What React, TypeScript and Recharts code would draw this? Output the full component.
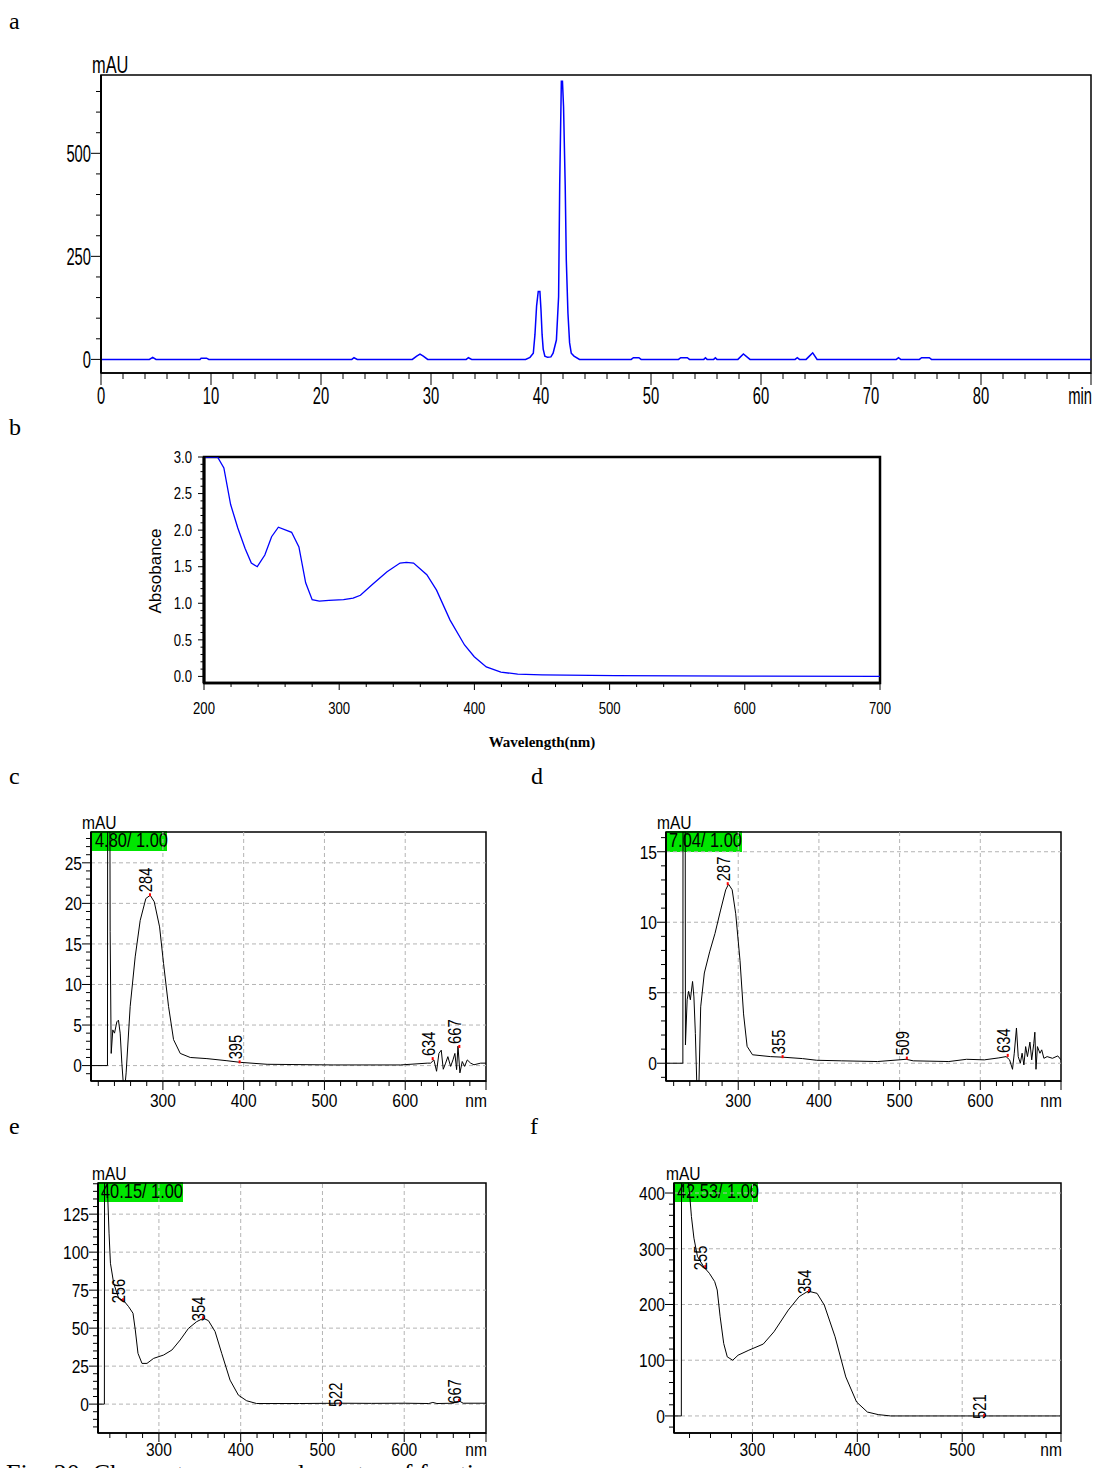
import React from 'react';
import { LineChart, Line, XAxis, YAxis, ReferenceLine, ReferenceArea, ReferenceDot } from 'recharts';

// no Arial Narrow in the sandbox: squeeze Liberation Sans horizontally instead
const SANS = "'Liberation Sans', Arial, sans-serif";
const SERIF = "'Liberation Serif', 'DejaVu Serif', serif";
const SQUEEZE = 0.82;

// a: HPLC chromatogram [time (min), mAU]
const chromatogram: [number, number][] = [
  [0, 0], [4.4, 0], [4.7, 5], [5.0, 0], [9.0, 0], [9.1, 3], [9.6, 3], [9.8, 0],
  [22.8, 0], [23.0, 4], [23.3, 0], [28.3, 0], [28.7, 8], [29.0, 13], [29.3, 8], [29.7, 0],
  [33.2, 0], [33.4, 4], [33.7, 0], [38.6, 0], [39.0, 5], [39.3, 15], [39.45, 60], [39.6, 130],
  [39.75, 165], [39.9, 165], [40.0, 120], [40.1, 60], [40.2, 25], [40.35, 8], [40.6, 5], [40.9, 6],
  [41.1, 15], [41.4, 47], [41.6, 152], [41.7, 423], [41.85, 675], [41.95, 675], [42.05, 613],
  [42.2, 423], [42.3, 241], [42.45, 112], [42.6, 40], [42.75, 15], [43.0, 8], [43.5, 0],
  [48.2, 0], [48.4, 4], [48.9, 4], [49.1, 0], [52.5, 0], [52.7, 4], [53.3, 4], [53.5, 0],
  [54.8, 0], [54.95, 4], [55.1, 0], [55.7, 0], [55.85, 4], [56.0, 0], [57.9, 0], [58.4, 13], [59.0, 0],
  [63.1, 0], [63.3, 4], [63.5, 0], [64.1, 0], [64.4, 8], [64.7, 16], [65.1, 0],
  [72.3, 0], [72.5, 4], [72.7, 0], [74.4, 0], [74.6, 4], [75.3, 4], [75.5, 0], [90, 0],
];

// b: absorption spectrum [nm, absorbance]
const spectrumB: [number, number][] = [
  [200, 3.0], [210, 3.0], [214.7, 2.85], [219.7, 2.35], [225, 2.03], [230.4, 1.75], [235, 1.55],
  [239.4, 1.5], [245, 1.66], [250, 1.91], [255, 2.04], [264.8, 1.97], [270.2, 1.77], [275.2, 1.28],
  [280, 1.05], [285.3, 1.03], [292.4, 1.04], [303.2, 1.05], [310.3, 1.07], [315.7, 1.11],
  [324.7, 1.26], [335.4, 1.43], [345, 1.55], [349.7, 1.56], [355, 1.55], [364.8, 1.39], [372, 1.18],
  [382, 0.77], [392.7, 0.43], [399.9, 0.27], [408.8, 0.13], [419.6, 0.06], [432, 0.03], [450, 0.02],
  [503.8, 0.01], [600, 0.005], [700, 0],
];

// c–f: DAD spectra of the peaks at 4.80, 7.04, 40.15 and 42.53 min [nm, mAU]
const spectrumC: [number, number][] = [
  [211, 0], [231.4, 0], [231.6, 31], [234.4, 31], [234.7, 16.5], [236, 1.5], [238, 4.4], [240.1, 4.0],
  [243, 5.4], [245, 5.6], [247.1, 4.0], [249.2, 0.3], [251.2, -2.5], [253, -2.5], [254.5, -0.9],
  [259.5, 7.3], [265.7, 13.4], [271.9, 17.9], [278.9, 20.6], [284.3, 21.0], [289.3, 20.2],
  [295.9, 17.1], [300.8, 12.6], [307, 7.3], [313.2, 3.2], [321.5, 1.5], [333.9, 1.0], [354.5, 0.86],
  [379.3, 0.6], [395.9, 0.4], [429, 0.16], [511.6, 0.08], [594.2, 0.08], [627.3, 0.3], [631.4, 0.3],
  [635.5, 0.7], [638.8, -0.7], [641.7, 1.5], [644.6, 1.9], [647.1, -0.45], [650, 0.3], [652.8, 1.1],
  [656.2, -0.1], [659.1, 0.7], [661.5, 1.5], [663.6, -0.5], [665.3, 2.4], [667.7, -0.9], [670.6, 0.5],
  [673.5, -0.1], [676.8, 0.7], [681, 0.3], [685.1, 0.1], [693.4, 0.3], [700, 0.3],
];
const spectrumD: [number, number][] = [
  [210.5, 0], [231.4, 0], [231.6, 18], [234.3, 18], [234.6, 1.3], [236.7, 4.5], [238.5, 5.1],
  [240.7, 4.5], [243.4, 5.8], [245.1, 4.7], [246.9, 2.1], [248.7, -1.5], [251.3, -1.5], [253.5, 4.0],
  [258, 6.4], [264.6, 7.9], [271.2, 9.2], [277.9, 10.8], [284.5, 12.3], [288, 12.7], [292.5, 12.3],
  [296.9, 10.6], [302.2, 7.3], [306.6, 3.5], [311, 1.2], [317.7, 0.6], [339.8, 0.47], [355.3, 0.43],
  [379.6, 0.33], [397.3, 0.21], [428.3, 0.17], [472.6, 0.12], [508, 0.28], [516.9, 0.17], [561, 0.12],
  [583, 0.28], [605, 0.24], [623, 0.38], [631.9, 0.47], [636.3, 0.24], [639.9, -0.43], [642.1, 0.71],
  [644.8, 2.5], [647, 0.47], [649.6, 0], [651.8, 0.71], [654, -0.12], [656.2, 1.18], [658.4, 0.47],
  [661.5, 1.5], [663.7, 0.24], [666.3, 1.42], [667.6, 2.2], [669, -0.43], [670.8, 1.18], [673.9, 0.71],
  [676.1, 0.95], [678.8, 0.35], [682.8, 0.47], [689.4, 0.35], [696, 0.52], [700, 0.24],
];
const spectrumE: [number, number][] = [
  [225.5, 0], [233.3, 0], [233.5, 150], [236.5, 150], [237.4, 136.6], [239, 112.5], [240.7, 92.7],
  [244.7, 79.5], [250.8, 69.6], [256.9, 68.1], [263, 64.1], [268.3, 59.8], [271.1, 48.8], [274.4, 33.4],
  [279.3, 26.8], [285.4, 26.8], [293.5, 30.1], [305.7, 32.3], [315.9, 35.6], [326, 42.2], [336.2, 49.9],
  [346.3, 54.3], [354.5, 56.5], [360.6, 54.9], [368.7, 47.7], [376.8, 33.4], [387, 15.8], [397.2, 5.9],
  [407.3, 2.2], [419.5, 0.4], [472, 0.4], [520, 0.6], [560, 0.5], [600, 0.6], [630, 0.4], [635, 1.1],
  [640, 0.4], [660, 0.6], [667, 2.2], [672, 0.6], [700, 0.6],
];
const spectrumF: [number, number][] = [
  [225.2, 0], [232.2, 0], [232.4, 450], [234.2, 450], [238, 430], [240, 400], [241.8, 358], [244.2, 319],
  [247.6, 286], [253.8, 267], [258.9, 256], [264, 241], [266.4, 226], [269.2, 178], [272.6, 130],
  [276, 106], [281.2, 100], [286.3, 109], [296.6, 118], [310.3, 129], [320.5, 151], [334.2, 190],
  [344.5, 214], [353, 224], [361.6, 220], [368.5, 199], [378.8, 142], [389, 70], [399.3, 25],
  [409.6, 7], [419.9, 2.4], [431.8, 0], [594.2, 0],
];

// labelled maxima [nm, mAU]
const peaksC: [number, number][] = [[284, 21.0], [395, 0.4], [634, 0.8], [667, 2.3]];
const peaksD: [number, number][] = [[287, 12.7], [355, 0.43], [509, 0.33], [634, 0.52]];
const peaksE: [number, number][] = [[256, 68.3], [354, 56.5], [522, 0], [667, 2.2]];
const peaksF: [number, number][] = [[255, 267], [354, 224], [521, 0]];

// tick labels
const aXLabels = [0, 10, 20, 30, 40, 50, 60, 70, 80];
const aYLabels = [0, 250, 500];
const bXLabels = [200, 300, 400, 500, 600, 700];
const bYLabels = [0, 0.5, 1.0, 1.5, 2.0, 2.5, 3.0];
const nmLabels = [300, 400, 500, 600];
const fXLabels = [300, 400, 500];
const cYLabels = [0, 5, 10, 15, 20, 25];
const dYLabels = [0, 5, 10, 15];
const eYLabels = [0, 25, 50, 75, 100, 125];
const fYLabels = [0, 100, 200, 300, 400];

const range = (a: number, b: number, s: number) => {
  const out: number[] = [];
  for (let v = a; v <= b + 1e-9; v += s) out.push(Math.round(v * 1000) / 1000);
  return out;
};
const toRows = (pts: [number, number][]) => pts.map(([x, y]) => ({ x, y }));

// narrow text placed by its anchor point
function NText({ x, y, size, anchor = 'start', sy = 1, rotate = 0, dy, children }: any) {
  return (
    <text
      transform={`translate(${x},${y}) rotate(${rotate}) scale(${SQUEEZE},${sy})`}
      textAnchor={anchor}
      dy={dy}
      fontFamily={SANS}
      fontSize={size}
      fill="#000"
    >
      {children}
    </text>
  );
}

interface TickSpec {
  values: number[];
  labels: number[];
  unit?: string;
  fmt?: (v: number) => string;
  majorLen: number;
  minorLen: number;
  gap: number;
  size: number;
  sy?: number;
}

const has = (arr: number[], v: number) => arr.some((l) => Math.abs(l - v) < 1e-6);

function XTick(props: any) {
  const { x, y, payload, spec } = props;
  const v = payload.value;
  const isUnit = !!spec.unit && v === spec.values[spec.values.length - 1];
  const isLab = has(spec.labels, v);
  const len = isLab || isUnit ? spec.majorLen : spec.minorLen;
  const txt = isUnit ? spec.unit : isLab ? (spec.fmt ? spec.fmt(v) : String(v)) : null;
  return (
    <g>
      <line x1={x} y1={y} x2={x} y2={y + len} stroke="#000" strokeWidth={1} />
      {txt && (
        <NText x={isUnit ? x + 1 : x} y={y + spec.gap} size={spec.size} sy={spec.sy ?? 1} anchor={isUnit ? 'end' : 'middle'}>
          {txt}
        </NText>
      )}
    </g>
  );
}

function YTick(props: any) {
  const { x, y, payload, spec } = props;
  const v = payload.value;
  const isLab = has(spec.labels, v);
  const len = isLab ? spec.majorLen : spec.minorLen;
  const txt = isLab ? (spec.fmt ? spec.fmt(v) : String(v)) : null;
  return (
    <g>
      <line x1={x - len} y1={y} x2={x} y2={y} stroke="#000" strokeWidth={1} />
      {txt && (
        <NText x={x - spec.gap} y={y} size={spec.size} sy={spec.sy ?? 1} anchor="end" dy="0.36em">
          {txt}
        </NText>
      )}
    </g>
  );
}

interface PlotProps {
  box: { left: number; top: number; width: number; height: number };
  pts: [number, number][];
  xDomain: [number, number];
  yDomain: [number, number];
  xSpec: TickSpec;
  ySpec: TickSpec;
  color: string;
  lineWidth: number;
  frameWidth: number;
  gridX?: number[];
  gridY?: number[];
  peaks?: [number, number][];
  peakDy?: number;
}

function Plot({ box, pts, xDomain, yDomain, xSpec, ySpec, color, lineWidth, frameWidth, gridX = [], gridY = [], peaks = [], peakDy = -3 }: PlotProps) {
  const ML = 80, MT = 10, MR = 20, MB = 50;
  return (
    <div style={{ position: 'absolute', left: box.left - ML, top: box.top - MT }}>
      <LineChart
        width={box.width + ML + MR}
        height={box.height + MT + MB}
        data={toRows(pts)}
        margin={{ top: MT, right: MR, bottom: 0, left: 0 }}
      >
        <XAxis
          dataKey="x" type="number" domain={xDomain} allowDataOverflow
          ticks={xSpec.values} interval={0} tickSize={0} tickMargin={0} tickLine={false}
          axisLine={{ stroke: '#000', strokeWidth: frameWidth }} height={MB}
          tick={(p: any) => <XTick {...p} spec={xSpec} />}
        />
        <YAxis
          type="number" domain={yDomain} allowDataOverflow
          ticks={ySpec.values} interval={0} tickSize={0} tickMargin={0} tickLine={false}
          axisLine={{ stroke: '#000', strokeWidth: frameWidth + 0.5 }} width={ML}
          tick={(p: any) => <YTick {...p} spec={ySpec} />}
        />
        {gridX.map((v) => (
          <ReferenceLine key={`gx${v}`} x={v} stroke="#b4b4b4" strokeDasharray="4 3" />
        ))}
        {gridY.map((v) => (
          <ReferenceLine key={`gy${v}`} y={v} stroke="#b4b4b4" strokeDasharray="4 3" />
        ))}
        <ReferenceArea
          x1={xDomain[0]} x2={xDomain[1]} y1={yDomain[0]} y2={yDomain[1]}
          fill="none" fillOpacity={0} stroke="#000" strokeWidth={frameWidth}
        />
        <Line
          dataKey="y" type="linear" stroke={color} strokeWidth={lineWidth}
          dot={false} activeDot={false} isAnimationActive={false}
        />
        {peaks.map(([nm, v]) => (
          <ReferenceDot
            key={`pk${nm}`} x={nm} y={v} r={2}
            shape={(p: any) => (
              <g>
                <rect x={p.cx - 1} y={p.cy - 2} width={2} height={3} fill="#ff0000" />
                <NText x={p.cx + 2} y={p.cy + peakDy} size={18} rotate={-90}>{String(nm)}</NText>
              </g>
            )}
          />
        ))}
      </LineChart>
    </div>
  );
}

const nmSpec = (values: number[], labels: number[], gap = 26): TickSpec => ({
  values, labels, unit: 'nm', majorLen: 9, minorLen: 5, gap, size: 19,
});
const mauSpec = (values: number[], labels: number[]): TickSpec => ({
  values, labels, majorLen: 9, minorLen: 5, gap: 9, size: 19,
});

const GREEN = '#00e600';

export default function App() {
  return (
    <div style={{ position: 'absolute', left: 0, top: 0, width: 1110, height: 1468, background: '#fff', overflow: 'hidden' }}>
      {/* retention-time boxes of the DAD spectra */}
      <svg width={1110} height={1468} style={{ position: 'absolute', left: 0, top: 0 }}>
        <rect x={91} y={831} width={76} height={20} fill={GREEN} />
        <NText x={95} y={847} size={20}>4.80/ 1.00</NText>
        <rect x={666} y={831} width={76} height={21} fill={GREEN} />
        <NText x={669} y={847} size={20}>7.04/ 1.00</NText>
        <rect x={98} y={1182} width={85} height={20} fill={GREEN} />
        <NText x={101} y={1198} size={20}>40.15/ 1.00</NText>
        <rect x={674} y={1182} width={84} height={20} fill={GREEN} />
        <NText x={677} y={1198} size={20}>42.53/ 1.00</NText>
      </svg>

      <Plot
        box={{ left: 101, top: 75, width: 990, height: 298 }}
        pts={chromatogram}
        xDomain={[0, 90]}
        yDomain={[-33, 690]}
        xSpec={{ values: range(0, 90, 2), labels: aXLabels, unit: 'min', majorLen: 12, minorLen: 6, gap: 31, size: 18, sy: 1.3 }}
        ySpec={{ values: range(0, 650, 50), labels: aYLabels, majorLen: 10, minorLen: 5, gap: 10, size: 18, sy: 1.3 }}
        color="#0000ff" lineWidth={1.5} frameWidth={1.5}
      />

      <Plot
        box={{ left: 204, top: 457, width: 676, height: 226 }}
        pts={spectrumB}
        xDomain={[200, 700]}
        yDomain={[-0.09, 3.0]}
        xSpec={{ values: range(200, 700, 20), labels: bXLabels, majorLen: 7, minorLen: 4, gap: 31, size: 16 }}
        ySpec={{ values: range(0, 3, 0.1), labels: bYLabels, fmt: (v) => v.toFixed(1), majorLen: 6, minorLen: 3.5, gap: 12, size: 16 }}
        color="#0000ff" lineWidth={1.3} frameWidth={2.5}
      />

      <Plot
        box={{ left: 91, top: 832, width: 395, height: 249 }}
        pts={spectrumC}
        xDomain={[211, 700]}
        yDomain={[-1.9, 28.8]}
        xSpec={nmSpec(range(220, 700, 20), nmLabels)}
        ySpec={mauSpec(range(-1, 28, 1), cYLabels)}
        color="#000" lineWidth={1} frameWidth={1.5}
        gridX={nmLabels} gridY={cYLabels} peaks={peaksC} peakDy={-3}
      />

      <Plot
        box={{ left: 666, top: 832, width: 395, height: 249 }}
        pts={spectrumD}
        xDomain={[210.5, 700]}
        yDomain={[-1.26, 16.4]}
        xSpec={nmSpec(range(220, 700, 20), nmLabels)}
        ySpec={mauSpec(range(-1, 16, 1), dYLabels)}
        color="#000" lineWidth={1} frameWidth={1.5}
        gridX={nmLabels} gridY={dYLabels} peaks={peaksD} peakDy={-3}
      />

      <Plot
        box={{ left: 98, top: 1183, width: 388, height: 250 }}
        pts={spectrumE}
        xDomain={[225.5, 700]}
        yDomain={[-19, 145.5]}
        xSpec={nmSpec(range(240, 700, 20), nmLabels, 23)}
        ySpec={mauSpec(range(-15, 145, 5), eYLabels)}
        color="#000" lineWidth={1} frameWidth={1.5}
        gridX={nmLabels} gridY={eYLabels} peaks={peaksE} peakDy={3}
      />

      <Plot
        box={{ left: 674, top: 1183, width: 387, height: 250 }}
        pts={spectrumF}
        xDomain={[225.2, 594.2]}
        yDomain={[-30.6, 418]}
        xSpec={nmSpec([...range(240, 580, 20), 594.2], fXLabels, 23)}
        ySpec={mauSpec(range(-20, 400, 20), fYLabels)}
        color="#000" lineWidth={1} frameWidth={1.5}
        gridX={fXLabels} gridY={fYLabels} peaks={peaksF} peakDy={3}
      />

      {/* panel letters, units, axis titles, caption */}
      <svg width={1110} height={1468} style={{ position: 'absolute', left: 0, top: 0, pointerEvents: 'none' }}>
        <g fontFamily={SERIF} fontSize={24} fill="#000">
          <text x={9} y={29}>a</text>
          <text x={9} y={435}>b</text>
          <text x={9} y={784}>c</text>
          <text x={531} y={784}>d</text>
          <text x={9} y={1134}>e</text>
          <text x={530} y={1134}>f</text>
        </g>
        <NText x={92} y={73} size={20} sy={1.15}>mAU</NText>
        <NText x={82} y={829} size={19}>mAU</NText>
        <NText x={657} y={829} size={19}>mAU</NText>
        <NText x={92} y={1180} size={19}>mAU</NText>
        <NText x={666} y={1180} size={19}>mAU</NText>
        <text transform="translate(161,571) rotate(-90)" textAnchor="middle" fontFamily={SANS} fontSize={17}>Absobance</text>
        <text x={542} y={747} textAnchor="middle" fontFamily={SERIF} fontWeight="bold" fontSize={15}>Wavelength(nm)</text>
        <text x={6} y={1482} fontFamily={SERIF} fontSize={26} fill="#000">Fig. 20.  Chromatograms and spectra of fractions</text>
      </svg>
    </div>
  );
}
